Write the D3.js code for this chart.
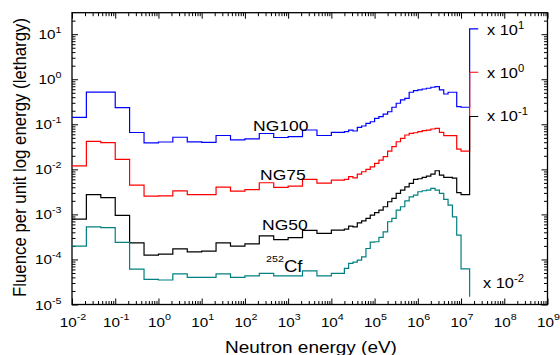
<!DOCTYPE html>
<html><head><meta charset="utf-8">
<script src="https://cdn.jsdelivr.net/npm/d3@7"></script>
<style>body{margin:0;background:#fff} svg{display:block} text{font-family:"Liberation Sans",Arial,sans-serif;fill:#000}</style>
</head><body><svg id="c" width="560" height="355"></svg>
<script>
// ---- data ----
const binEdges = [1e-2, 2.15e-2, 4.64e-2, 0.1, 0.215, 0.464, 1, 2.15, 4.64, 10, 21.5, 46.4, 100, 215, 464, 1e3, 2.15e3, 4.64e3, 1e4,
  2.0e4, 2.51e4, 3.16e4, 3.98e4, 5.01e4, 6.31e4, 7.94e4, 1e5, 1.26e5, 1.58e5, 2.0e5, 2.51e5, 3.16e5, 3.98e5, 5.01e5, 6.31e5, 7.94e5,
  1e6, 1.26e6, 1.58e6, 2.0e6, 2.51e6, 3.16e6, 3.98e6, 5.01e6, 6.31e6, 7.94e6, 1e7, 1.58e7];
const ng100 = [0.143, 0.52, 0.52, 0.234, 0.0658, 0.0388, 0.0405, 0.0516, 0.0408, 0.0398, 0.0564, 0.0453, 0.0476, 0.0625, 0.0509, 0.053, 0.0747, 0.0564,
  0.0664, 0.0686, 0.0746, 0.071, 0.0857, 0.0916, 0.105, 0.114, 0.136, 0.148, 0.169, 0.19, 0.239, 0.293, 0.347, 0.378, 0.514, 0.558, 0.578, 0.608, 0.631, 0.664, 0.686, 0.578, 0.471, 0.514, 0.514, 0.246, 0.239];
const ng75 = [0.012, 0.0419, 0.039, 0.0167, 4.48e-3, 2.55e-3, 2.58e-3, 3.34e-3, 2.75e-3, 2.75e-3, 4.05e-3, 3.3e-3, 3.56e-3, 5.04e-3, 3.98e-3, 4.26e-3, 6.0e-3, 4.97e-3,
  5.78e-3, 6.0e-3, 6.86e-3, 6.5e-3, 7.87e-3, 8.85e-3, 0.01, 0.0114, 0.0136, 0.0161, 0.0191, 0.0255, 0.0318, 0.041, 0.0489, 0.0578, 0.0631, 0.065, 0.0686, 0.0721, 0.0746, 0.0787, 0.0815, 0.0664, 0.0558, 0.0558, 0.0558, 0.0282, 0.0255];
const ng50 = [7.87e-4, 2.75e-3, 2.36e-3, 9.5e-4, 2.34e-4, 1.25e-4, 1.31e-4, 1.72e-4, 1.48e-4, 1.53e-4, 2.34e-4, 1.98e-4, 2.22e-4, 3.34e-4, 2.75e-4, 3.05e-4, 4.41e-4, 3.79e-4,
  4.48e-4, 4.71e-4, 5.5e-4, 5.3e-4, 6.5e-4, 7.21e-4, 8.15e-4, 9.64e-4, 1.09e-3, 1.25e-3, 1.48e-3, 1.91e-3, 2.27e-3, 2.93e-3, 3.47e-3, 4.1e-3, 4.89e-3, 6.0e-3, 6.18e-3, 6.64e-3, 7.1e-3, 7.87e-3, 9.3e-3, 7.46e-3, 6.64e-3, 6.64e-3, 6.41e-3, 3.05e-3, 2.75e-3];
const cf252 = [1.98e-4, 5.3e-4, 5.1e-4, 2.4e-4, 6.1e-5, 3.6e-5, 3.5e-5, 4.8e-5, 4.0e-5, 4.0e-5, 4.8e-5, 4.0e-5, 4.3e-5, 4.9e-5, 4.3e-5, 4.3e-5, 5.6e-5, 4.3e-5,
  4.89e-5, 6.31e-5, 8.15e-5, 8.71e-5, 9.64e-5, 1.14e-4, 1.75e-4, 2.42e-4, 2.47e-4, 3.08e-4, 4.1e-4, 6.86e-4, 8.15e-4, 1.25e-3, 1.48e-3, 2.0e-3, 2.46e-3, 2.69e-3, 3.18e-3, 3.35e-3, 3.47e-3, 3.78e-3, 3.47e-3, 2.93e-3, 2.15e-3, 1.61e-3, 8.85e-4, 3.47e-4, 6.18e-5];
const seriesLabels = ["NG100", "NG75", "NG50", "Cf"];
const scaleExponents = ["1", "0", "-1", "-2"];
const markerValues = [13.1, 1.43, 0.149, 1.48e-5];
const xTickExponents = d3.range(-2, 10);
const yTickExponents = d3.range(-5, 2);
const xTitle = "Neutron energy (eV)";
const yTitle = "Fluence per unit log energy (lethargy)";

// ---- layout ----
const SX = 1.13; // horizontal stretch of the reference's text
const svg = d3.select("#c");
const m = {l: 72, r: 547.5, t: 12.7, b: 304.5};
const x = d3.scaleLog().domain([1e-2, 1e9]).range([m.l, m.r]);
const y = d3.scaleLog().domain([1e-5, 30]).range([m.b, m.t]);

const xMajor = xTickExponents.map(e => Math.pow(10, e));
const xMinor = [];
xTickExponents.slice(0, -1).forEach(e => { for (let k = 2; k <= 9; k++) xMinor.push(k * Math.pow(10, e)); });
const yMajor = yTickExponents.map(e => Math.pow(10, e));
const yMinor = [];
yTickExponents.forEach(e => { for (let k = 2; k <= 9; k++) { const v = k * Math.pow(10, e); if (v < 30) yMinor.push(v); } });

function addAxis(axis, tx, ty) {
  svg.append("g").attr("transform", `translate(${tx},${ty})`).call(axis)
    .call(g => g.select(".domain").remove())
    .call(g => g.selectAll("line").attr("stroke", "#000").attr("stroke-width", 1));
}
[[xMajor, 6], [xMinor, 3.5]].forEach(([vals, len]) => {
  addAxis(d3.axisBottom(x).tickValues(vals).tickSize(-len).tickFormat(""), 0, m.b);
  addAxis(d3.axisTop(x).tickValues(vals).tickSize(-len).tickFormat(""), 0, m.t);
});
[[yMajor, 6], [yMinor, 3.5]].forEach(([vals, len]) => {
  addAxis(d3.axisLeft(y).tickValues(vals).tickSize(-len).tickFormat(""), m.l, 0);
  addAxis(d3.axisRight(y).tickValues(vals).tickSize(-len).tickFormat(""), m.r, 0);
});

svg.append("rect").attr("x", m.l).attr("y", m.t).attr("width", m.r - m.l).attr("height", m.b - m.t)
  .attr("fill", "none").attr("stroke", "#000").attr("stroke-width", 1.3);

function txt(px, py, anchor, size) {
  return svg.append("text").attr("transform", `translate(${px},${py}) scale(${SX},1)`)
    .attr("text-anchor", anchor).attr("font-size", size);
}
function pow10(t, base, exp, supSize, dy) {
  t.append("tspan").text(base);
  t.append("tspan").attr("font-size", supSize).attr("dy", dy).text(exp);
}

// tick labels
xTickExponents.forEach(e => pow10(txt(x(Math.pow(10, e)) + 1, 326.5, "middle", 13.5), "10", String(e), 9.5, -6.5));
yTickExponents.forEach(e => pow10(txt(61.5, y(Math.pow(10, e)) + 5, "end", 13.5), "10", String(e), 9.5, -6));

// axis titles
txt(311, 352.5, "middle", 16.8).text(xTitle);
svg.append("text").attr("transform", `translate(26,157.5) rotate(-90) scale(1,${SX})`)
  .attr("text-anchor", "middle").attr("font-size", 16.8).text(yTitle);

// series
const colors = ["#0000ff", "#ff0000", "#000000", "#008080"];
const seriesValues = [ng100, ng75, ng50, cf252];
const line = d3.line().x(d => x(d[0])).y(d => y(d[1])).curve(d3.curveStepAfter);
const markTickEnd = 2.5e7;
seriesValues.forEach((vals, i) => {
  const n = vals.length;
  const pts = vals.map((v, j) => [binEdges[j], v]);
  pts.push([binEdges[n], vals[n - 1]]);
  pts.push([binEdges[n], markerValues[i]]);
  if (i < 3) pts.push([markTickEnd, markerValues[i]]);
  svg.append("path").attr("d", line(pts)).attr("fill", "none")
    .attr("stroke", colors[i]).attr("stroke-width", 1.2);
});

// series labels
txt(253, 131, "start", 15.5).text(seriesLabels[0]);
txt(260, 180, "start", 15.5).text(seriesLabels[1]);
txt(262, 230, "start", 15.5).text(seriesLabels[2]);
const cfT = txt(266, 262, "start", 9.5);
cfT.append("tspan").text("252");
cfT.append("tspan").attr("font-size", 16.5).attr("dy", 9.5).text(seriesLabels[3]);

// scale factor labels
const scaleLabelPos = [[487, 35], [487, 78], [487, 121], [483, 288]];
scaleExponents.forEach((e, i) => pow10(txt(scaleLabelPos[i][0], scaleLabelPos[i][1], "start", 14.5), "x 10", e, 10, -6.5));
</script></body></html>
